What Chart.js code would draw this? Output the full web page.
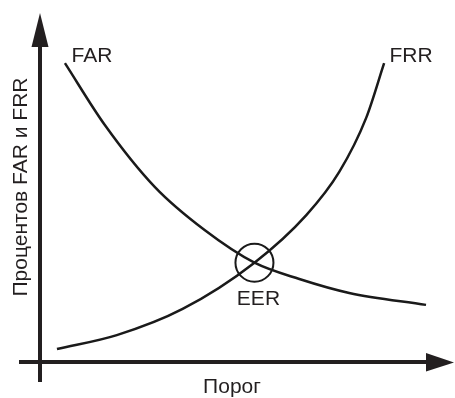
<!DOCTYPE html>
<html>
<head>
<meta charset="utf-8">
<script src="https://cdn.jsdelivr.net/npm/chart.js@4"></script>
<style>
  html, body { margin: 0; padding: 0; background: #fff; }
  #wrap { width: 455px; height: 398px; }
</style>
</head>
<body>
<div id="wrap"><canvas id="myChart" width="455" height="398"></canvas></div>
<script>
// values (x = threshold, y = percent)
let farX = [6.25, 16.25, 28.75, 41.25, 53.75, 65, 77.5, 96.75];
let farY = [87.9, 69.7, 51.5, 38.8, 29.2, 24.4, 20.3, 16.8];
let frrX = [4.25, 19.25, 35.75, 53.75, 66.75, 75, 81.75, 86.25];
let frrY = [3.8, 7.9, 15.6, 29.2, 43.2, 55.9, 71.8, 87.9];
let eerPoint = { x: 53.75, y: 29.2 };

let curveLabels = ["FAR", "FRR", "EER"];
let xTitle = "Порог";
let yTitle = "Процентов FAR и FRR";

let toPoints = (xs, ys) => xs.map((val, i) => {
  return { x: val, y: ys[i] };
});

let inkColor = "#231f20";
let labelFont = "21px 'Liberation Sans', Arial, sans-serif";

// axes with arrow heads, curve names and axis titles
const schemePlugin = {
  id: "scheme",
  afterDatasetsDraw(chart) {
    const c = chart.ctx;
    const xs = chart.scales.x;
    const ys = chart.scales.y;
    const x0 = xs.getPixelForValue(0);
    const y0 = ys.getPixelForValue(0);
    c.save();
    c.strokeStyle = inkColor;
    c.fillStyle = inkColor;
    c.lineWidth = 4;
    c.beginPath();
    c.moveTo(x0, y0 + 20);
    c.lineTo(x0, 47);
    c.moveTo(x0 - 21, y0);
    c.lineTo(427, y0);
    c.stroke();
    // arrows
    c.beginPath();
    c.moveTo(x0, 13);
    c.lineTo(x0 - 8.5, 47);
    c.lineTo(x0 + 8.5, 47);
    c.closePath();
    c.fill();
    c.beginPath();
    c.moveTo(454, y0 + 0.5);
    c.lineTo(426, y0 - 9);
    c.lineTo(426, y0 + 9.5);
    c.closePath();
    c.fill();

    c.font = labelFont;
    c.textBaseline = "alphabetic";
    c.textAlign = "center";
    c.fillText(curveLabels[0], 92, 62);
    c.fillText(curveLabels[1], 411, 62);
    c.fillText(curveLabels[2], xs.getPixelForValue(eerPoint.x) + 4, 305);
    c.fillText(xTitle, 232, 393);
    c.translate(27, 187);
    c.rotate(-Math.PI / 2);
    c.fillText(yTitle, 0, 0);
    c.restore();
  }
};

var ctx = document.getElementById("myChart").getContext("2d");
var myChart = new Chart(ctx, {
  type: "line",
  data: {
    datasets: [
      {
        label: curveLabels[0],
        data: toPoints(farX, farY),
        borderColor: "#1a1a1a",
        borderWidth: 2.5,
        pointRadius: 0,
        cubicInterpolationMode: "monotone",
        fill: false
      },
      {
        label: curveLabels[1],
        data: toPoints(frrX, frrY),
        borderColor: "#1a1a1a",
        borderWidth: 2.5,
        pointRadius: 0,
        cubicInterpolationMode: "monotone",
        fill: false
      },
      {
        label: curveLabels[2],
        data: [eerPoint],
        showLine: false,
        pointStyle: "circle",
        pointRadius: 19,
        pointBorderWidth: 2,
        pointBorderColor: "#1a1a1a",
        pointBackgroundColor: "rgba(0,0,0,0)"
      }
    ]
  },
  options: {
    responsive: false,
    animation: false,
    events: [],
    // right side must be >= point overflow (radius 19 + border)
    layout: { padding: { left: 40, right: 20, top: 22, bottom: 36 } },
    plugins: {
      legend: { display: false },
      tooltip: { enabled: false }
    },
    scales: {
      x: { type: "linear", min: 0, max: 98.75, display: false },
      y: { type: "linear", min: 0, max: 100, display: false }
    }
  },
  plugins: [schemePlugin]
});
</script>
</body>
</html>
